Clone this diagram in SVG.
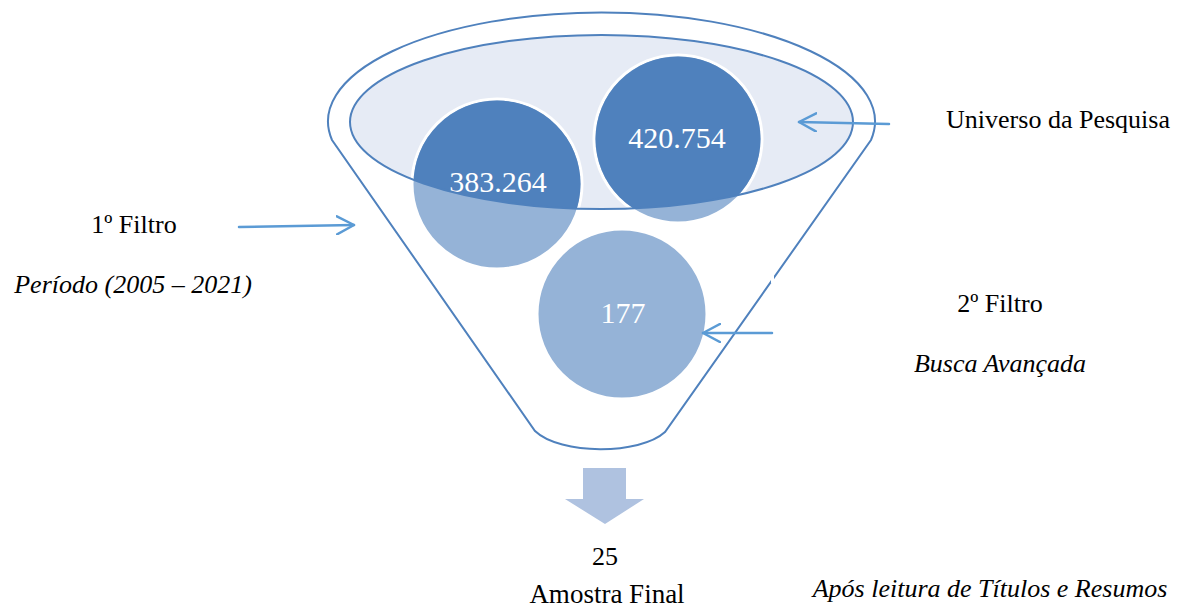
<svg xmlns="http://www.w3.org/2000/svg" width="1184" height="610" viewBox="0 0 1184 610">
<defs>
<style>
.t{font-family:"Liberation Serif","Times New Roman",serif;fill:#000;font-size:26px}
.i{font-style:italic}
.w{font-family:"Liberation Serif","Times New Roman",serif;fill:#fff;font-size:30px;text-anchor:middle}
.edge{fill:none;stroke:#4F81BD;stroke-width:2}
.conn{fill:none;stroke:#5B9BD5;stroke-width:2.5;stroke-linecap:round;stroke-linejoin:round}
.light{fill:#95B3D7;stroke:#fff;stroke-width:3}
.dark{fill:#4F81BD}
</style>
<clipPath id="inner"><ellipse cx="601.5" cy="122" rx="251.5" ry="87"/></clipPath>
<marker id="ah" viewBox="0 0 20 20" refX="18" refY="10" markerWidth="20" markerHeight="20" markerUnits="userSpaceOnUse" orient="auto">
<path d="M1,1 L18,10 L1,19" fill="none" stroke="#5B9BD5" stroke-width="2.5" stroke-linecap="round" stroke-linejoin="round"/>
</marker>
</defs>
<rect width="1184" height="610" fill="#fff"/>
<g id="funnel">
<path class="edge" d="M332,140 A273.5 109 0 1 1 871,140 L665,432 C640,455 560,455 535,431 Z"/>
<rect x="771" y="272" width="3" height="11" fill="#fff"/>
</g>
<g id="universo">
<ellipse cx="601.5" cy="122" rx="251.5" ry="87" fill="#E6EBF5"/>
</g>
<g id="c383">
<circle class="light" cx="497" cy="184" r="85"/>
<circle class="dark" cx="497" cy="184" r="83.5" clip-path="url(#inner)"/>
<text class="w" x="498" y="192">383.264</text>
</g>
<g id="c420">
<circle class="light" cx="678" cy="139" r="84"/>
<circle class="dark" cx="678" cy="139" r="82.5" clip-path="url(#inner)"/>
<text class="w" x="677" y="148">420.754</text>
</g>
<g id="c177">
<circle class="light" cx="622" cy="314" r="85"/>
<text class="w" x="623" y="323">177</text>
</g>
<ellipse class="edge" cx="601.5" cy="122" rx="251.5" ry="87"/>
<g id="down">
<polygon points="583,468 626,468 626,499 644,499 605,524 565,499 583,499" fill="#AFC2E0"/>
</g>
<g id="connectors">
<line class="conn" x1="239" y1="227" x2="354" y2="225" marker-end="url(#ah)"/>
<line class="conn" x1="889" y1="124" x2="799" y2="122" marker-end="url(#ah)"/>
<line class="conn" x1="772" y1="333" x2="703" y2="333" marker-end="url(#ah)"/>
</g>
<g id="labels">
<text class="t" x="1058" y="128" text-anchor="middle">Universo da Pesquisa</text>
<text class="t" x="134" y="233" text-anchor="middle">1º Filtro</text>
<text class="t i" x="133" y="293" text-anchor="middle">Período (2005 – 2021)</text>
<text class="t" x="1000" y="312" text-anchor="middle">2º Filtro</text>
<text class="t i" x="1000" y="372" text-anchor="middle">Busca Avançada</text>
<text class="t" x="605" y="565" text-anchor="middle">25</text>
<text class="t" x="607" y="603" text-anchor="middle" style="font-size:27px">Amostra Final</text>
<text class="t i" x="990" y="597" text-anchor="middle">Após leitura de Títulos e Resumos</text>
</g>
</svg>
